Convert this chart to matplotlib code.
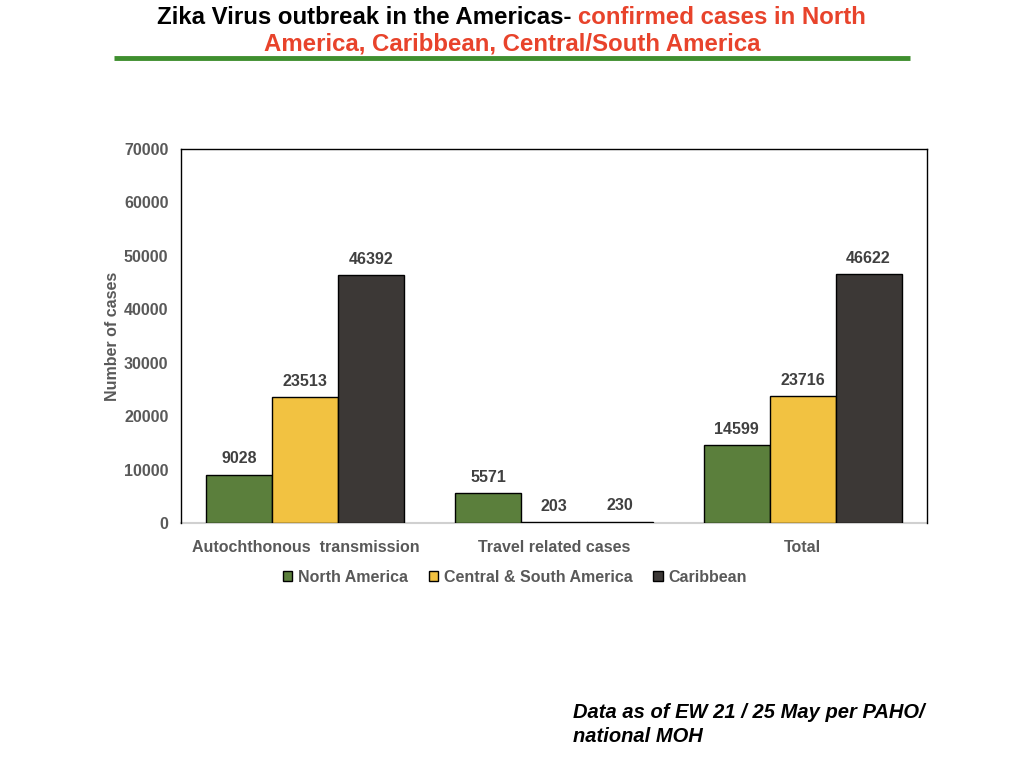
import matplotlib
matplotlib.use("Agg")
import matplotlib.pyplot as plt
import numpy as np
from matplotlib.patches import Patch

categories = ["Autochthonous  transmission", "Travel related cases", "Total"]
series_names = ["North America", "Central & South America", "Caribbean"]
north_america = [9028, 5571, 14599]
central_south = [23513, 203, 23716]
caribbean = [46392, 230, 46622]
colors = ["#5b7f3c", "#f2c241", "#3c3836"]

plt.rcParams['font.family'] = ['Liberation Sans', 'DejaVu Sans']

fig = plt.figure(figsize=(10.24, 7.68), dpi=100)
ax = fig.add_axes([181/1024, 1-523/768, (927-181)/1024, (523-149)/768])

x = np.arange(len(categories))
w = 0.265
data = [north_america, central_south, caribbean]
for i, (vals, c, name) in enumerate(zip(data, colors, series_names)):
    bars = ax.bar(x + (i-1)*w, vals, w, color=c, edgecolor="black", linewidth=1, label=name, zorder=3)
    ax.bar_label(bars, labels=[str(v) for v in vals], padding=6, fontsize=11.5,
                 fontweight="bold", color="#404040")

ax.set_xlim(-0.5, 2.5)
ax.set_ylim(0, 70000)
ax.set_yticks(np.arange(0, 70001, 10000))
ax.set_xticks(x)
ax.set_xticklabels(categories)
ax.tick_params(length=0, labelsize=11.5, labelcolor="#595959")
for lab in ax.get_xticklabels() + ax.get_yticklabels():
    lab.set_fontweight("bold")
ax.tick_params(axis='x', pad=12)
ax.tick_params(axis='y', pad=9)
for s in ["left", "top", "right"]:
    ax.spines[s].set_color("black")
    ax.spines[s].set_linewidth(1)
ax.spines["bottom"].set_color("#d0d0d0")
ax.spines["bottom"].set_linewidth(1.5)
ax.spines["bottom"].set_zorder(1)
ax.set_ylabel("Number of cases", fontsize=11.5, fontweight="bold", color="#595959", labelpad=3)

handles = [Patch(facecolor=c, edgecolor="black", label=n) for c, n in zip(colors, series_names)]
leg = fig.legend(handles=handles, loc="center", bbox_to_anchor=(515/1024, 1-577/768), ncol=3,
                 frameon=False, fontsize=11.5, handlelength=0.6, handleheight=0.6,
                 handletextpad=0.35, columnspacing=1.3)
for t in leg.get_texts():
    t.set_fontweight("bold")
    t.set_color("#595959")

# Title
title_left = fig.text(157/1024, 1-17.5/768, "Zika Virus outbreak in the Americas- ", fontsize=17.3,
                      fontweight="bold", color="black", ha="left", va="center")
fig.canvas.draw()
bb = title_left.get_window_extent()
fig.text(bb.x1/1024, 1-17.5/768, "confirmed cases in North", fontsize=17.3, fontweight="bold",
         color="#e8432b", ha="left", va="center")
fig.text(512/1024, 1-44.5/768, "America, Caribbean, Central/South America", fontsize=17.3,
         fontweight="bold", color="#e8432b", ha="center", va="center")

fig.add_artist(plt.Line2D([114/1024, 910/1024], [1-58/768, 1-58/768], color="#3f8f2f",
                          linewidth=3.5, solid_capstyle="butt"))

fig.text(573/1024, 1-712.5/768, "Data as of EW 21 / 25 May per PAHO/", fontsize=14.5, fontweight="bold",
         style="italic", color="black", ha="left", va="center")
fig.text(573/1024, 1-736/768, "national MOH", fontsize=14.5, fontweight="bold",
         style="italic", color="black", ha="left", va="center")

fig.savefig("out.png", dpi=100)
